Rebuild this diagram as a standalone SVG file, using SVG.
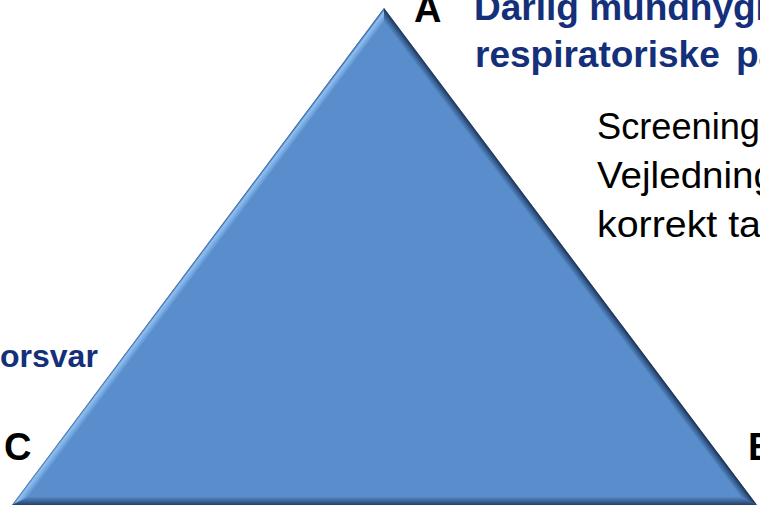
<svg xmlns="http://www.w3.org/2000/svg" width="760" height="506" viewBox="0 0 760 506">
<style>
.v{font-family:"Liberation Sans",Arial,sans-serif;font-weight:bold;font-size:38px;fill:#000}
.h{font-family:"Liberation Sans",Arial,sans-serif;font-weight:bold;font-size:37px;fill:#14307a}
.s{font-family:"Liberation Sans",Arial,sans-serif;font-weight:bold;font-size:32px;fill:#14307a}
.b{font-family:"Liberation Sans",Arial,sans-serif;font-size:36px;fill:#000}
</style>
<defs>
<linearGradient id="gl" gradientUnits="userSpaceOnUse" x1="198" y1="256.5" x2="204.4" y2="261.3">
<stop offset="0" stop-color="#3a629a"/><stop offset="0.25" stop-color="#8fc0f2"/><stop offset="1" stop-color="#5f93d2"/>
</linearGradient>
<linearGradient id="gr" gradientUnits="userSpaceOnUse" x1="570.5" y1="256.5" x2="564.1" y2="261.3">
<stop offset="0" stop-color="#1c2f4f"/><stop offset="0.4" stop-color="#34598a"/><stop offset="1" stop-color="#5589c8"/>
</linearGradient>
<linearGradient id="gb" gradientUnits="userSpaceOnUse" x1="0" y1="505" x2="0" y2="497">
<stop offset="0" stop-color="#253f66"/><stop offset="0.5" stop-color="#3e6598"/><stop offset="1" stop-color="#5687c4"/>
</linearGradient>
</defs>
<g id="triangle">
<polygon points="384,8 12,505 757,505" fill="#5a8dcc"/>
<polygon points="384,8 12,505 28,497 384,21.4" fill="url(#gl)"/>
<polygon points="384,8 384,21.4 741,497 757,505" fill="url(#gr)"/>
<polygon points="12,505 757,505 741,497 28,497" fill="url(#gb)"/>
<polygon points="384,21.4 28,497 741,497" fill="#5a8dcc"/>
</g>
<g id="label-A"><text class="v" x="414" y="22">A</text></g>
<g id="label-B"><text class="v" x="748" y="460">B</text></g>
<g id="label-C"><text class="v" x="4" y="460">C</text></g>
<g id="heading">
<text class="h" x="474" y="20">Darlig mundhygi</text>
<text class="h" x="475" y="67" xml:space="preserve">respiratoriske  <tspan x="736">pa</tspan></text>
</g>
<g id="measures">
<text class="b" x="597" y="139" textLength="163" lengthAdjust="spacingAndGlyphs">Screening</text>
<text class="b" x="597" y="188" textLength="178" lengthAdjust="spacingAndGlyphs">Vejledning</text>
<text class="b" x="597" y="237" textLength="164" lengthAdjust="spacingAndGlyphs">korrekt ta</text>
</g>
<g id="left-label"><text class="s" x="0" y="367">orsvar</text></g>
</svg>
